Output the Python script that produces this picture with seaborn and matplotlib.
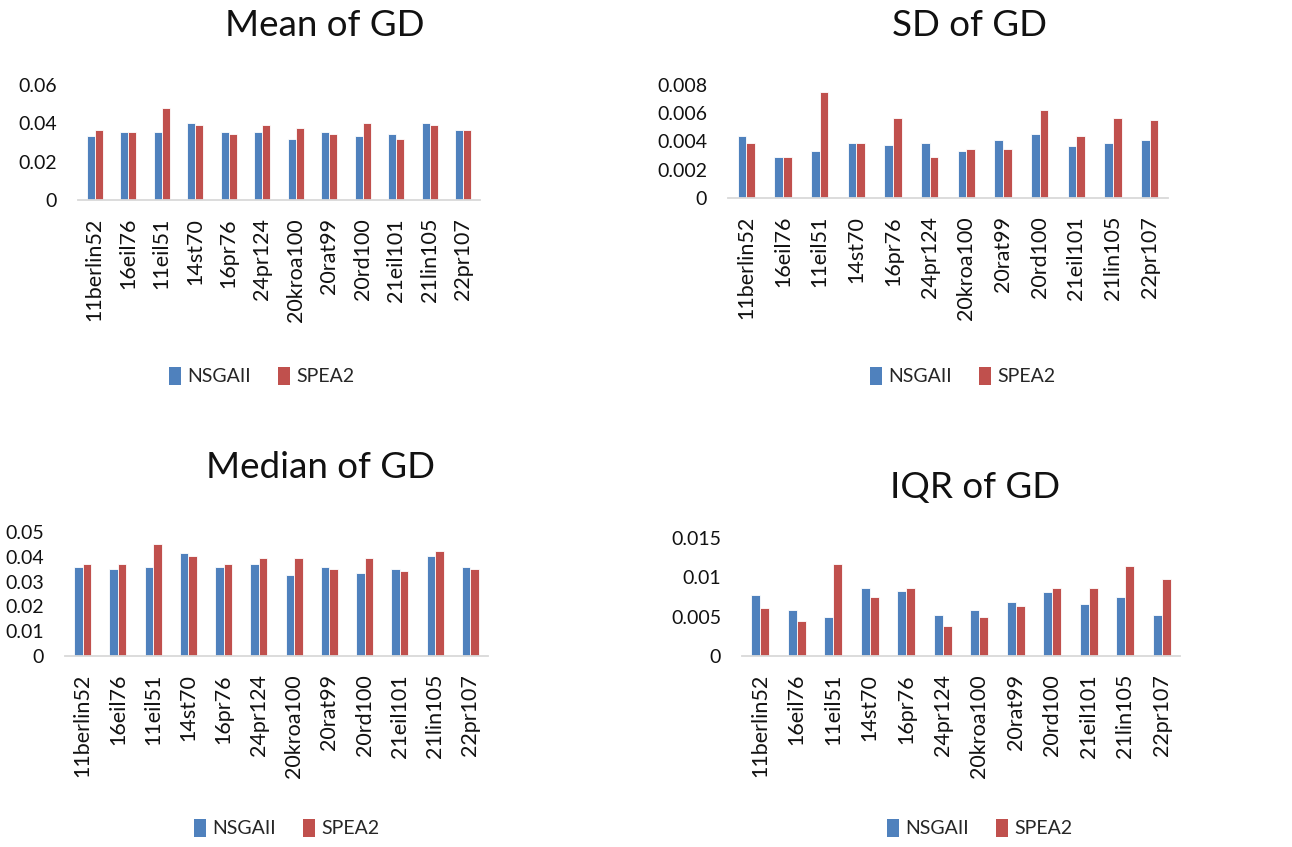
import numpy as np
import pandas as pd
import matplotlib
matplotlib.use("Agg")
import matplotlib.pyplot as plt
import seaborn as sns
from matplotlib.patches import Patch

# Benchmark instances and algorithms
instances = ["11berlin52", "16eil76", "11eil51", "14st70", "16pr76", "24pr124",
             "20kroa100", "20rat99", "20rd100", "21eil101", "21lin105", "22pr107"]
algorithms = ["NSGAII", "SPEA2"]
colors = ["#4F81BD", "#C0504D"]

# Generational distance statistics per instance
mean_nsgaii = [0.0332, 0.0355, 0.0355, 0.0400, 0.0355, 0.0355, 0.0320, 0.0355, 0.0332, 0.0344, 0.0400, 0.0367]
mean_spea2 = [0.0367, 0.0355, 0.0480, 0.0390, 0.0344, 0.0390, 0.0377, 0.0344, 0.0400, 0.0320, 0.0390, 0.0367]

sd_nsgaii = [0.0044, 0.00287, 0.00334, 0.0039, 0.00376, 0.0039, 0.00334, 0.0041, 0.00456, 0.00365, 0.0039, 0.0041]
sd_spea2 = [0.0039, 0.00287, 0.0075, 0.0039, 0.00565, 0.00287, 0.00348, 0.00348, 0.00626, 0.0044, 0.00565, 0.0055]

median_nsgaii = [0.0360, 0.0350, 0.0360, 0.0415, 0.0360, 0.0370, 0.0326, 0.0360, 0.0334, 0.0350, 0.0405, 0.0360]
median_spea2 = [0.0370, 0.0370, 0.0450, 0.0405, 0.0370, 0.0397, 0.0397, 0.0350, 0.0397, 0.0343, 0.0424, 0.0350]

iqr_nsgaii = [0.0078, 0.0058, 0.0049, 0.0086, 0.0083, 0.0052, 0.0058, 0.0069, 0.0081, 0.0066, 0.0075, 0.0052]
iqr_spea2 = [0.0061, 0.0044, 0.0117, 0.0075, 0.0086, 0.0038, 0.0049, 0.0064, 0.0086, 0.0086, 0.0114, 0.0098]

# Axis ticks per panel
mean_ticks = [0, 0.02, 0.04, 0.06]
mean_tick_labels = ["0", "0.02", "0.04", "0.06"]
sd_ticks = [0, 0.002, 0.004, 0.006, 0.008]
sd_tick_labels = ["0", "0.002", "0.004", "0.006", "0.008"]
median_ticks = [0, 0.01, 0.02, 0.03, 0.04, 0.05]
median_tick_labels = ["0", "0.01", "0.02", "0.03", "0.04", "0.05"]
iqr_ticks = [0, 0.005, 0.01, 0.015]
iqr_tick_labels = ["0", "0.005", "0.01", "0.015"]

sns.set_theme(style="white")
plt.rcParams["font.family"] = ["Lato", "DejaVu Sans"]

W, H = 1292, 847
fig = plt.figure(figsize=(W / 100, H / 100), dpi=100)


def px_axes(x0, x1, ytop, ybot):
    return fig.add_axes([x0 / W, 1 - ybot / H, (x1 - x0) / W, (ybot - ytop) / H])


def panel(box, title, title_xy, first, second, ticks, tick_labels, legend_xy):
    ax = px_axes(*box)
    df = pd.DataFrame({
        "instance": instances * 2,
        "algorithm": [algorithms[0]] * len(instances) + [algorithms[1]] * len(instances),
        "value": list(first) + list(second),
    })
    sns.barplot(data=df, x="instance", y="value", hue="algorithm",
                hue_order=algorithms, order=instances, palette=colors,
                width=0.48, saturation=1, edgecolor="white", linewidth=0.6,
                legend=False, ax=ax)
    ax.set_ylim(ticks[0], ticks[-1])
    ax.set_xlim(-0.5, len(instances) - 0.5)
    ax.set_yticks(ticks)
    ax.set_yticklabels(tick_labels)
    ax.set_xlabel("")
    ax.set_ylabel("")
    for s in ["top", "right", "left"]:
        ax.spines[s].set_visible(False)
    ax.spines["bottom"].set_color("#D9D9D9")
    ax.spines["bottom"].set_linewidth(1.3)
    ax.tick_params(axis="y", length=0, pad=15, labelsize=14, labelcolor="#111111")
    ax.tick_params(axis="x", length=0, pad=13, labelsize=15.5, labelcolor="#111111")
    plt.setp(ax.get_xticklabels(), rotation=90)
    fig.text(title_xy[0] / W, 1 - title_xy[1] / H, title, ha="center", va="center",
             fontsize=26.5, color="#111111")
    handles = [Patch(facecolor=c, edgecolor="none") for c in colors]
    fig.legend(handles, algorithms, loc="center",
               bbox_to_anchor=(legend_xy[0] / W, 1 - legend_xy[1] / H),
               ncol=2, frameon=False, fontsize=14, handlelength=0.6,
               handleheight=1.1, handletextpad=0.35, columnspacing=1.4)
    return ax


panel((78, 480, 85, 200), "Mean of GD", (325, 25), mean_nsgaii, mean_spea2,
      mean_ticks, mean_tick_labels, (262, 376))
panel((728, 1168, 85, 198), "SD of GD", (970, 25), sd_nsgaii, sd_spea2,
      sd_ticks, sd_tick_labels, (963, 376))
panel((65, 488, 532, 656), "Median of GD", (320, 468), median_nsgaii, median_spea2,
      median_ticks, median_tick_labels, (287, 828))
panel((742, 1180, 538, 656), "IQR of GD", (975, 487), iqr_nsgaii, iqr_spea2,
      iqr_ticks, iqr_tick_labels, (980, 828))

fig.savefig("out.png", dpi=100, facecolor="white")
